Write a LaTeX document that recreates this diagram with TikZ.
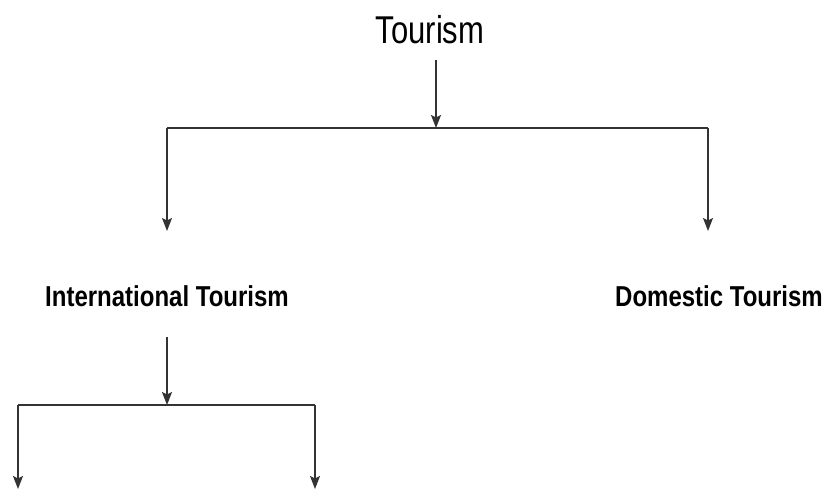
\documentclass[tikz,border=0pt]{standalone}
\usepackage{fontspec}
\setmainfont{Liberation Sans}
\usetikzlibrary{arrows.meta}
\begin{document}
\begin{tikzpicture}[x=1pt,y=-1pt,
  conn/.style={line width=1.4pt, draw=black!80},
  arr/.style={conn, -{Stealth[length=13pt,width=10pt,inset=2.5pt]}},
  title/.style={inner sep=0pt, anchor=base, font=\fontsize{31}{31}\selectfont},
  lbl/.style={inner sep=0pt, anchor=base, font=\fontsize{24}{24}\selectfont\bfseries}]
\useasboundingbox[fill=white] (0,0) rectangle (827,490);
\node[title] (tourism) at (430,43) {\scalebox{1}[1.25]{Tourism}};
\node[lbl] (intl) at (167,306) {\scalebox{1}[1.2]{International Tourism}};
\node[lbl] (dom) at (719,306) {\scalebox{1}[1.2]{Domestic Tourism}};
\coordinate (t0) at (436,60);
\coordinate (j1) at (436,128);
\coordinate (jl) at (167,128);
\coordinate (jr) at (708,128);
\coordinate (el) at (167,231);
\coordinate (er) at (708,231);
\coordinate (i0) at (167,337);
\coordinate (j2) at (167,405);
\coordinate (kl) at (18,405);
\coordinate (kr) at (315,405);
\coordinate (fl) at (18,489);
\coordinate (fr) at (315,489);
\draw[arr] (t0) -- (j1);
\draw[conn] (jl) -- (jr);
\draw[arr] (jl) -- (el);
\draw[arr] (jr) -- (er);
\draw[arr] (i0) -- (j2);
\draw[conn] (kl) -- (kr);
\draw[arr] (kl) -- (fl);
\draw[arr] (kr) -- (fr);
\end{tikzpicture}
\end{document}
